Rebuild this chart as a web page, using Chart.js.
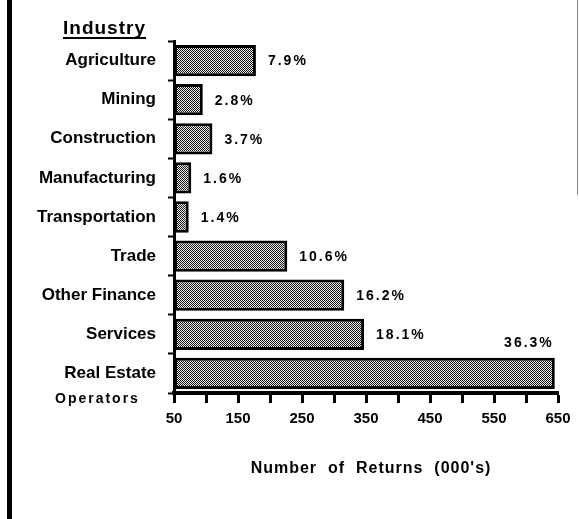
<!DOCTYPE html>
<html>
<head>
<meta charset="utf-8">
<script src="https://cdn.jsdelivr.net/npm/chart.js@4/dist/chart.umd.min.js"></script>
<style>
  html, body { margin: 0; padding: 0; background: #fff; }
  #wrap { width: 579px; height: 519px; position: relative; }
</style>
</head>
<body>
<div id="wrap"><canvas id="chart" width="579" height="519"></canvas></div>
<script>
const industries = ['Agriculture', 'Mining', 'Construction', 'Manufacturing', 'Transportation', 'Trade', 'Other Finance', 'Services', 'Real Estate'];
const returns = [178, 95, 110, 77, 73, 227, 316, 347, 645];
const shares = ['7.9%', '2.8%', '3.7%', '1.6%', '1.4%', '10.6%', '16.2%', '18.1%', '36.3%'];
const axisStart = 50;
const axisEnd = 650;
const xTickLabels = [50, 150, 250, 350, 450, 550, 650];

const boldFont = '"Liberation Sans", Arial, sans-serif';

// dithered grey fill like the old printout
function makePattern() {
  const c = document.createElement('canvas');
  c.width = 2;
  c.height = 2;
  const p = c.getContext('2d');
  p.fillStyle = '#f0f0f0';
  p.fillRect(0, 0, 2, 2);
  p.fillStyle = '#111';
  p.fillRect(0, 0, 1, 1);
  p.fillRect(1, 1, 1, 1);
  return p.createPattern(c, 'repeat');
}

function spacedText(ctx, text, x, y, spacing) {
  ctx.save();
  ctx.letterSpacing = spacing + 'px';
  ctx.fillText(text, x, y);
  ctx.restore();
}

const decorations = {
  id: 'decorations',
  afterDraw(chart) {
    const ctx = chart.ctx;
    const area = chart.chartArea;
    ctx.save();
    ctx.fillStyle = '#000';
    // page frame remains
    ctx.fillRect(7, 0, 5, chart.height);
    ctx.fillStyle = '#888';
    ctx.fillRect(577, 0, 1, 195);

    ctx.fillStyle = '#000';
    ctx.textBaseline = 'alphabetic';
    ctx.textAlign = 'left';
    ctx.font = 'bold 19px ' + boldFont;
    spacedText(ctx, 'Industry', 63, 34, 1);
    ctx.fillRect(63, 37, 83, 2);

    ctx.font = 'bold 14px ' + boldFont;
    ctx.textBaseline = 'middle';
    spacedText(ctx, 'Operators', 55, 399, 2);

    ctx.font = 'bold 16px ' + boldFont;
    ctx.textAlign = 'center';
    spacedText(ctx, "Number  of  Returns  (000's)", (area.left + area.right) / 2 + 5, 469, 1);
    ctx.restore();
  },
  afterDatasetsDraw(chart) {
    const ctx = chart.ctx;
    const area = chart.chartArea;
    const bars = chart.getDatasetMeta(0).data;
    ctx.save();
    ctx.fillStyle = '#000';
    ctx.font = 'bold 14px ' + boldFont;
    ctx.textBaseline = 'middle';
    bars.forEach((bar, i) => {
      ctx.letterSpacing = '2px';
      const w = ctx.measureText(shares[i]).width;
      if (bar.x + 12 + w > area.right) {
        ctx.textAlign = 'right';
        ctx.fillText(shares[i], bar.x - 1, bar.y - bar.height / 2 - 15);
      } else {
        ctx.textAlign = 'left';
        ctx.fillText(shares[i], bar.x + 12, bar.y + 1);
      }
    });
    ctx.restore();
  }
};

const ctx = document.getElementById('chart').getContext('2d');
new Chart(ctx, {
  type: 'bar',
  data: {
    labels: industries,
    datasets: [{
      data: returns.map(v => [axisStart, v]),
      backgroundColor: makePattern(),
      borderColor: '#000',
      borderWidth: 3,
      borderSkipped: false,
      barPercentage: 0.8,
      categoryPercentage: 1
    }]
  },
  options: {
    indexAxis: 'y',
    responsive: false,
    animation: false,
    devicePixelRatio: 1,
    layout: { padding: { top: 41, right: 21, bottom: 0, left: 0 } },
    plugins: {
      legend: { display: false },
      tooltip: { enabled: false }
    },
    scales: {
      x: {
        min: axisStart,
        max: axisEnd,
        afterFit: (scale) => { scale.height = 126; },
        border: { display: true, color: '#000', width: 4 },
        grid: {
          drawOnChartArea: false,
          drawTicks: true,
          tickLength: 10,
          tickWidth: 3,
          tickColor: '#000'
        },
        ticks: {
          stepSize: 50,
          autoSkip: false,
          maxRotation: 0,
          padding: 7,
          color: '#000',
          font: { family: boldFont, size: 15, weight: 'bold' },
          callback: (v) => xTickLabels.includes(v) ? String(v) : ''
        }
      },
      y: {
        afterFit: (scale) => { scale.width = 174; },
        border: { display: true, color: '#000', width: 3 },
        grid: {
          offset: true,
          drawOnChartArea: false,
          drawTicks: true,
          tickLength: 6,
          tickWidth: 2,
          tickColor: '#000'
        },
        ticks: {
          padding: 12,
          color: '#000',
          font: { family: boldFont, size: 17, weight: 'bold' }
        }
      }
    }
  },
  plugins: [decorations]
});
</script>
</body>
</html>
